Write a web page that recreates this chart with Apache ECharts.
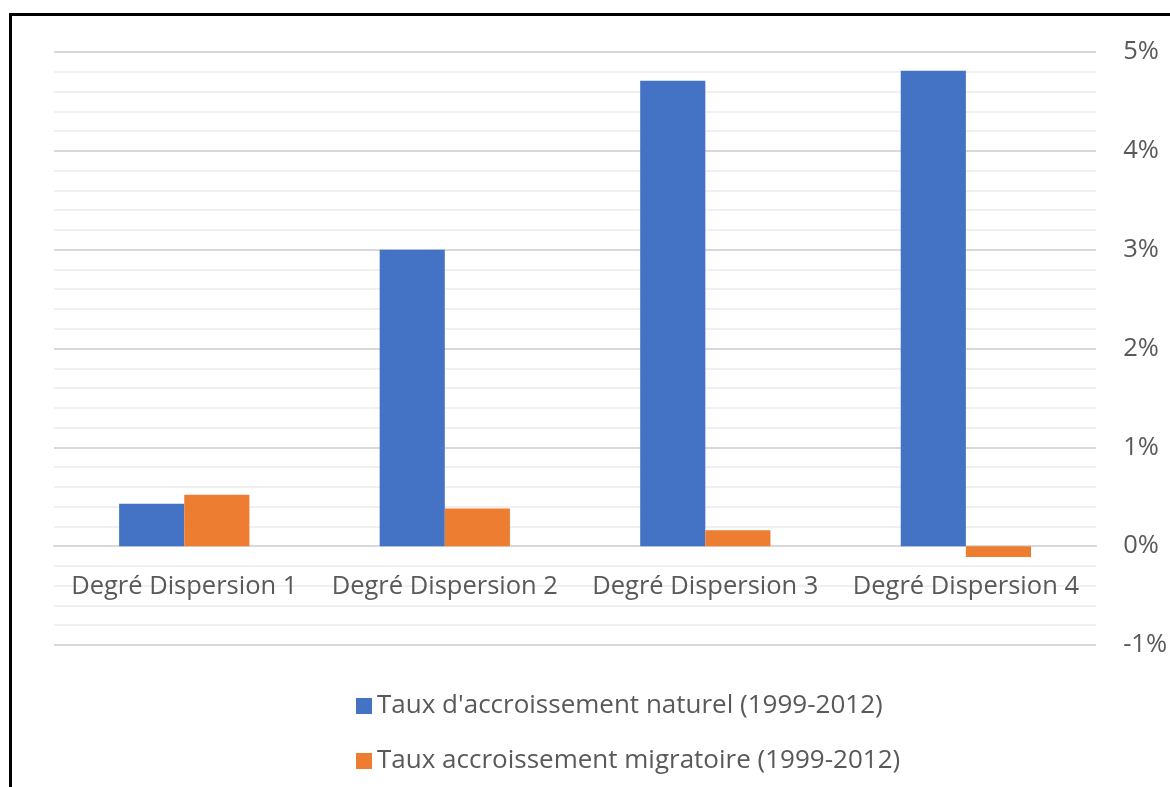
<!DOCTYPE html>
<html><head><meta charset="utf-8">
<script src="https://cdn.jsdelivr.net/npm/echarts@6/dist/echarts.min.js"></script>
<style>html,body{margin:0;padding:0;background:#fff}#c{width:1170px;height:787px}</style>
</head><body><div id="c"></div>
<script>
const categories = ['Degré Dispersion 1','Degré Dispersion 2','Degré Dispersion 3','Degré Dispersion 4'];
const seriesNames = ["Taux d'accroissement naturel (1999-2012)", "Taux accroissement migratoire (1999-2012)"];
const naturel = [0.43, 3.0, 4.71, 4.81];
const migratoire = [0.52, 0.38, 0.16, -0.11];
const yMin = -1, yMax = 5, yStep = 1;

const font = 'Open Sans';
const gridTop = 52, gridBottom = 142, H = 787;
const plotH = H - gridTop - gridBottom;
const zeroOffset = -plotH * (0 - yMin) / (yMax - yMin);

const chart = echarts.init(document.getElementById('c'));
chart.setOption({
  animation: false,
  backgroundColor: '#fff',
  textStyle: {fontFamily: font},
  graphic: [{type:'rect', shape:{x:10.5,y:14.5,width:1200,height:800}, style:{fill:'none',stroke:'#000',lineWidth:3}, z:100}],
  grid: {left:54, right:72, top:gridTop, bottom:gridBottom},
  legend: {
    orient:'vertical', left:351, top:688, itemWidth:16, itemHeight:16, itemGap:29,
    icon:'rect',
    textStyle:{fontFamily:font, fontSize:26, color:'#595959'},
    data: seriesNames
  },
  xAxis: {
    type:'category', data: categories, offset: zeroOffset,
    axisLine:{onZero:false, lineStyle:{color:'#d9d9d9', width:2}},
    axisTick:{show:false},
    axisLabel:{fontFamily:font, fontSize:25.5, color:'#595959', margin:28, interval:0}
  },
  yAxis: {
    type:'value', position:'right', min:yMin, max:yMax, interval:yStep,
    axisLine:{show:false}, axisTick:{show:false},
    axisLabel:{fontFamily:font, fontSize:25.5, color:'#595959', margin:27, formatter: v => v + '%'},
    splitLine:{lineStyle:{color:'#d9d9d9', width:2}},
    minorTick:{show:false, splitNumber:5},
    minorSplitLine:{show:true, lineStyle:{color:'#f0f0f0', width:2}}
  },
  series: [
    {name: seriesNames[0], type:'bar', data: naturel, barWidth:'25%', barGap:'0%', itemStyle:{color:'#4472c4'}},
    {name: seriesNames[1], type:'bar', data: migratoire, barWidth:'25%', barGap:'0%', itemStyle:{color:'#ed7d31'}}
  ]
});
</script></body></html>
